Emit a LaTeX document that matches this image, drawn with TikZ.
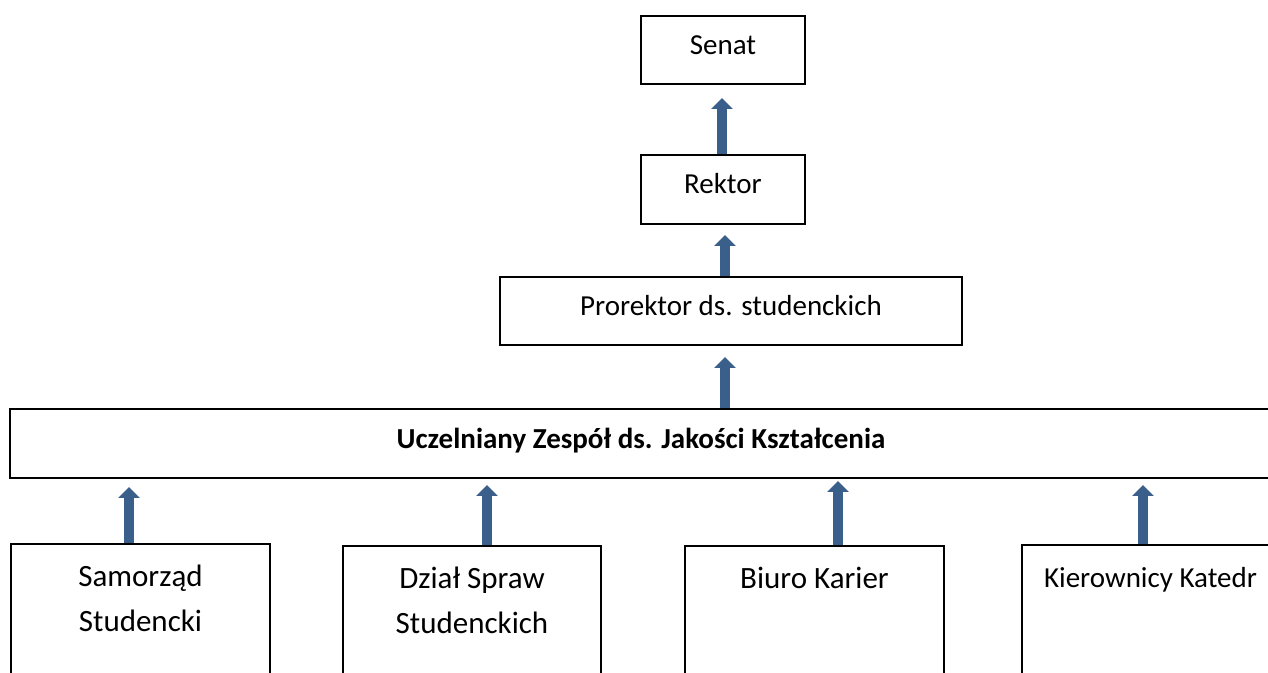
\documentclass[tikz,border=0pt]{standalone}
\usepackage{fontspec}
\setmainfont{Carlito}
\usetikzlibrary{arrows.meta, positioning}
\definecolor{arrowblue}{RGB}{59,95,139}

\tikzset{
  box/.style={draw, line width=1.5pt, inner sep=0pt, align=center},
  tbox/.style={box, text height=14pt, text depth=7.5pt},
  txt/.style={inner sep=0pt, align=center},
  uparrow/.style={draw=arrowblue, line width=7.5pt,
    -{Triangle[width=15.75pt,length=8.25pt]}},
  big/.style={font=\fontsize{21.75pt}{27pt}\selectfont},
  bigger/.style={font=\fontsize{23.25pt}{33.75pt}\selectfont}
}

\begin{document}
\begin{tikzpicture}[x=0.75pt, y=-0.75pt]
\clip (0,0) rectangle (1268,673);

% top chain
\node[tbox, big, minimum width=123pt, minimum height=51pt] (senat) at (723,50) {Senat};
\node[tbox, big, minimum width=123pt, minimum height=51.75pt] (rektor) at (723,189.5) {Rektor};
\node[tbox, big, minimum width=346.5pt, minimum height=51pt] (prorektor) at (731,311) {Prorektor ds. studenckich};
\node[tbox, font=\bfseries\fontsize{21.75pt}{27pt}\selectfont, text depth=6.8pt, minimum width=946.5pt, minimum height=51.75pt] (uczelnia) at (641,443.5) {Uczelniany Zespół ds. Jakości Kształcenia};

% bottom row (boxes run past the lower edge)
\node[box, anchor=north west, minimum width=194.25pt, minimum height=150pt] (samorzad) at (10,543) {};
\node[box, anchor=north west, minimum width=193.5pt, minimum height=150pt] (dzial) at (342,545) {};
\node[box, anchor=north west, minimum width=194.25pt, minimum height=150pt] (biuro) at (684,545) {};
\node[box, anchor=north west, minimum width=192.75pt, minimum height=150pt] (kierownicy) at (1021,544) {};

\node[txt, bigger, below=16.5pt of samorzad.north] (samorzadtxt) {Samorząd\\Studencki};
\node[txt, bigger, below=16.5pt of dzial.north] (dzialtxt) {Dział Spraw\\Studenckich};
\node[txt, bigger, below=16.5pt of biuro.north] (biurotxt) {Biuro Karier};
\node[txt, big, below=17pt of kierownicy.north] (kierownicytxt) {Kierownicy Katedr};

% arrows
\draw[uparrow, shorten >=9.75pt] (rektor.north -| 722,0) -- (senat.south -| 722,0);
\draw[uparrow, shorten >=7.5pt] (prorektor.north -| 725,0) -- (rektor.south -| 725,0);
\draw[uparrow, shorten >=8.25pt] (uczelnia.north -| 725,0) -- (prorektor.south -| 725,0);
\draw[uparrow, shorten >=6pt] (samorzad.north -| 129,0) -- (uczelnia.south -| 129,0);
\draw[uparrow, shorten >=4.5pt] (dzial.north -| 487,0) -- (uczelnia.south -| 487,0);
\draw[uparrow, shorten >=1.5pt] (biuro.north -| 838,0) -- (uczelnia.south -| 838,0);
\draw[uparrow, shorten >=4.5pt] (kierownicy.north -| 1143,0) -- (uczelnia.south -| 1143,0);
\end{tikzpicture}
\end{document}
